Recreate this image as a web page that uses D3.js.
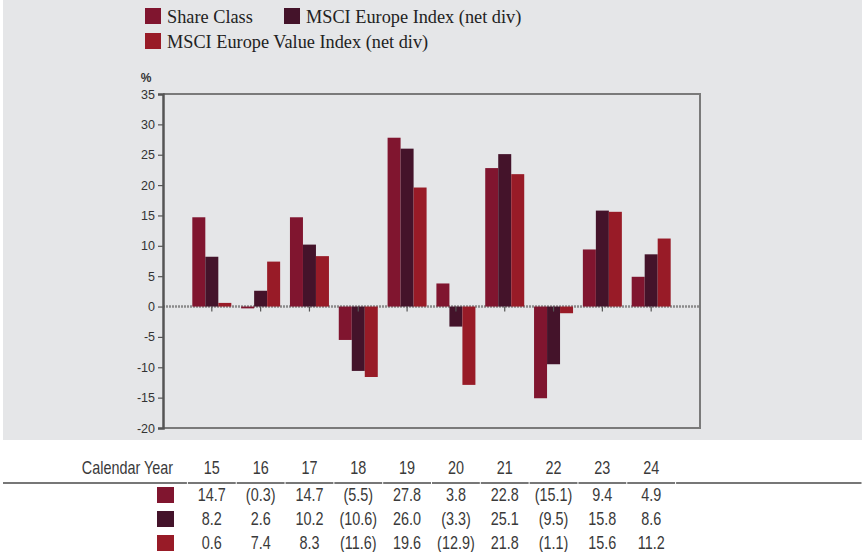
<!DOCTYPE html>
<html>
<head>
<meta charset="utf-8">
<script src="https://cdn.jsdelivr.net/npm/d3@7"></script>
<style>
  html, body { margin: 0; padding: 0; background: #fff; }
  svg { display: block; }
</style>
</head>
<body>
<div id="chart"></div>
<script>
// Calendar-year returns
var years = ['15', '16', '17', '18', '19', '20', '21', '22', '23', '24'];
var seriesNames = ['Share Class', 'MSCI Europe Index (net div)', 'MSCI Europe Value Index (net div)'];
var seriesColors = ['#80152f', '#44132a', '#981b27'];
var shareClass = [14.7, -0.3, 14.7, -5.5, 27.8, 3.8, 22.8, -15.1, 9.4, 4.9];
var msciEurope = [8.2, 2.6, 10.2, -10.6, 26.0, -3.3, 25.1, -9.5, 15.8, 8.6];
var msciValue = [0.6, 7.4, 8.3, -11.6, 19.6, -12.9, 21.8, -1.1, 15.6, 11.2];
var yTicks = [35, 30, 25, 20, 15, 10, 5, 0, -5, -10, -15, -20];

var series = [shareClass, msciEurope, msciValue];

var W = 862, H = 552;
var plot = { left: 163, right: 700, top: 94, bottom: 428 };

var svg = d3.select('#chart').append('svg')
  .attr('width', W).attr('height', H);

// grey panel behind chart
svg.append('rect')
  .attr('x', 3).attr('y', 0).attr('width', W - 3).attr('height', 440)
  .attr('fill', '#e5e6e8');

var y = d3.scaleLinear().domain([-20, 35]).range([plot.bottom, plot.top]);

// 11 equal steps across the frame, categories sit on steps 1..10
var step = (plot.right - plot.left) / (years.length + 1);
var x = d3.scalePoint().domain(years).range([plot.left + step, plot.right - step]);
var barW = 13;
var xs = d3.scaleBand().domain(d3.range(series.length))
  .range([-barW * 1.5, barW * 1.5]).padding(0);

// frame (top, right, bottom)
svg.append('path')
  .attr('d', 'M' + plot.left + ',' + plot.top + 'H' + plot.right + 'V' + plot.bottom + 'H' + plot.left)
  .attr('fill', 'none').attr('stroke', '#7a7a7a').attr('stroke-width', 2);

// zero line
svg.append('line')
  .attr('x1', plot.left).attr('x2', plot.right)
  .attr('y1', y(0)).attr('y2', y(0))
  .attr('stroke', '#8a8a8a').attr('stroke-width', 2.5)
  .attr('stroke-dasharray', '2,1');

// bars
var groups = svg.append('g').selectAll('g')
  .data(series).enter().append('g')
  .attr('fill', function(d, i) { return seriesColors[i]; });

groups.each(function(vals, si) {
  d3.select(this).selectAll('rect')
    .data(vals).enter().append('rect')
    .attr('x', function(d, i) { return x(years[i]) + xs(si); })
    .attr('width', xs.bandwidth())
    .attr('y', function(d) { return y(Math.max(0, d)); })
    .attr('height', function(d) { return Math.abs(y(d) - y(0)); });
});

// category ticks under the zero line
svg.append('g').selectAll('line')
  .data(years).enter().append('line')
  .attr('x1', function(d) { return x(d); }).attr('x2', function(d) { return x(d); })
  .attr('y1', y(0)).attr('y2', y(0) + 5)
  .attr('stroke', '#555').attr('stroke-width', 1.2);

// y axis
var yAxis = d3.axisLeft(y).tickValues(yTicks).tickSize(5).tickPadding(3)
  .tickFormat(function(d) { return String(d); });
var ya = svg.append('g')
  .attr('transform', 'translate(' + plot.left + ',0)')
  .call(yAxis);
ya.select('.domain').attr('stroke', '#555').attr('stroke-width', 2.5);
ya.selectAll('.tick line').attr('stroke', '#555').attr('stroke-width', 1.2);
ya.selectAll('.tick text')
  .attr('font-family', "'Liberation Sans', Arial, sans-serif")
  .attr('font-size', 12.5).attr('fill', '#333');

svg.append('text')
  .attr('x', 146).attr('y', 82)
  .attr('text-anchor', 'middle')
  .attr('font-family', "'Liberation Sans', Arial, sans-serif")
  .attr('font-size', 12).attr('font-weight', 'bold').attr('fill', '#333')
  .text('%');

// legend
var legendPos = [[145, 8], [284, 8], [145, 33]];
var legend = svg.append('g').selectAll('g')
  .data(seriesNames).enter().append('g')
  .attr('transform', function(d, i) { return 'translate(' + legendPos[i][0] + ',' + legendPos[i][1] + ')'; });
legend.append('rect')
  .attr('width', 16).attr('height', 16)
  .attr('fill', function(d, i) { return seriesColors[i]; });
legend.append('text')
  .attr('x', 22).attr('y', 15)
  .attr('font-family', "'Liberation Serif', 'Times New Roman', serif")
  .attr('font-size', 18.3).attr('fill', '#222')
  .text(function(d) { return d; });

// table below the chart (condensed look via horizontal squeeze)
var squeeze = 0.8;
var fmt = function(v) {
  var s = Math.abs(v).toFixed(1);
  return v < 0 ? '(' + s + ')' : s;
};
function cell(px, py, str, anchor) {
  svg.append('g')
    .attr('transform', 'translate(' + px + ',' + py + ') scale(' + squeeze + ',1)')
    .append('text')
    .attr('text-anchor', anchor)
    .attr('font-family', "'Liberation Sans', Arial, sans-serif")
    .attr('font-size', 18).attr('fill', '#3a3a3a')
    .text(str);
}

cell(173, 474, 'Calendar Year', 'end');
years.forEach(function(d) { cell(x(d), 474, d, 'middle'); });

// rule under the header row, broken at column edges
var edges = [3].concat(years.map(function(d) { return x(d) - step / 2; }), [x(years[years.length - 1]) + step / 2, W]);
svg.append('g').selectAll('line')
  .data(d3.range(edges.length - 1)).enter().append('line')
  .attr('x1', function(i) { return edges[i] + (i ? 0.5 : 0); })
  .attr('x2', function(i) { return edges[i + 1] - 0.5; })
  .attr('y1', 483).attr('y2', 483)
  .attr('stroke', '#777').attr('stroke-width', 2);

var rowY = [501, 525, 549];
series.forEach(function(vals, si) {
  svg.append('rect')
    .attr('x', 157).attr('y', rowY[si] - 14)
    .attr('width', 17).attr('height', 16)
    .attr('fill', seriesColors[si]);
  vals.forEach(function(v, i) { cell(x(years[i]), rowY[si], fmt(v), 'middle'); });
});
</script>
</body>
</html>
